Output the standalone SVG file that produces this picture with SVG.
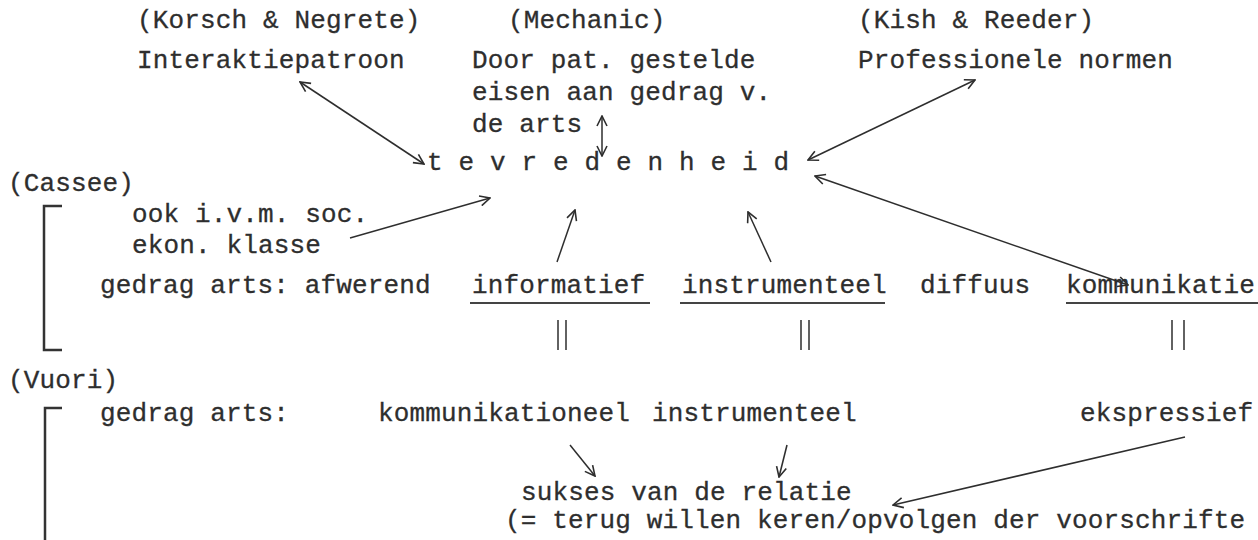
<svg xmlns="http://www.w3.org/2000/svg" width="1258" height="540" viewBox="0 0 1258 540">
<defs>
<style>
text{font-family:"Liberation Mono","Courier New",monospace;font-size:26px;letter-spacing:0.15px;fill:#2e2e2e;stroke:#2e2e2e;stroke-width:0.3}
.ln{stroke:#2e2e2e;stroke-width:1.5;fill:none}
.br{stroke:#333;stroke-width:2.5;fill:none}
.ul{stroke:#444;stroke-width:1.8}
</style>
<marker id="ah" viewBox="0 0 12 12" refX="11" refY="6" markerWidth="12" markerHeight="12" markerUnits="userSpaceOnUse" orient="auto-start-reverse">
<path d="M1,1 L11,6 L1,11" fill="none" stroke="#2e2e2e" stroke-width="1.6"/>
</marker>
</defs>
<rect width="1258" height="540" fill="#fff"/>
<g id="korsch"><text x="137" y="28">(Korsch &amp; Negrete)</text><text x="137" y="68">Interaktiepatroon</text></g>
<g id="mechanic"><text x="508" y="28">(Mechanic)</text><text x="472" y="68">Door pat. gestelde</text><text x="472" y="100">eisen aan gedrag v.</text><text x="472" y="132">de arts</text></g>
<g id="kish"><text x="858" y="28">(Kish &amp; Reeder)</text><text x="858" y="68">Professionele normen</text></g>
<g id="tevredenheid"><text x="427" y="170">t e v r e d e n h e i d</text></g>
<g id="cassee"><text x="8" y="191">(Cassee)</text>
<path class="br" d="M62,206 H44 V350 H62"/>
<text x="132" y="222">ook i.v.m. soc.</text><text x="132" y="253">ekon. klasse</text>
<text x="100" y="293">gedrag arts: afwerend</text>
</g>
<g id="informatief"><text x="472" y="293">informatief</text><line class="ul" x1="470" y1="303" x2="650" y2="303"/></g>
<g id="instrumenteel1"><text x="682" y="293">instrumenteel</text><line class="ul" x1="680" y1="303" x2="885" y2="303"/></g>
<g id="diffuus"><text x="920" y="293">diffuus</text></g>
<g id="kommunikatie"><text x="1066" y="293">kommunikatie</text><line class="ul" x1="1066" y1="303" x2="1258" y2="303"/></g>
<g id="vuori"><text x="8" y="388">(Vuori)</text>
<path class="br" d="M62,408 H45 V540"/>
<text x="100" y="421">gedrag arts:</text></g>
<g id="kommunikationeel"><text x="378" y="421">kommunikationeel</text></g>
<g id="instrumenteel2"><text x="652" y="421">instrumenteel</text></g>
<g id="ekspressief"><text x="1080" y="421">ekspressief</text></g>
<g id="sukses"><text x="521" y="500">sukses van de relatie</text><text x="505" y="528">(= terug willen keren/opvolgen der voorschrifte</text></g>
<g id="connectors">
<line class="ln" x1="424" y1="164" x2="300" y2="82" marker-start="url(#ah)" marker-end="url(#ah)"/>
<line class="ln" x1="602" y1="116" x2="602" y2="156" marker-start="url(#ah)" marker-end="url(#ah)"/>
<line class="ln" x1="808" y1="160" x2="975" y2="80" marker-start="url(#ah)" marker-end="url(#ah)"/>
<line class="ln" x1="815" y1="176" x2="1128" y2="285" marker-start="url(#ah)" marker-end="url(#ah)"/>
<line class="ln" x1="350" y1="238" x2="490" y2="198" marker-end="url(#ah)"/>
<line class="ln" x1="557" y1="262" x2="575" y2="210" marker-end="url(#ah)"/>
<line class="ln" x1="771" y1="262" x2="748" y2="212" marker-end="url(#ah)"/>
<line class="ln" x1="558" y1="320" x2="558" y2="350"/><line class="ln" x1="566" y1="320" x2="566" y2="350"/>
<line class="ln" x1="801" y1="320" x2="801" y2="350"/><line class="ln" x1="809" y1="320" x2="809" y2="350"/>
<line class="ln" x1="1172" y1="320" x2="1172" y2="350"/><line class="ln" x1="1184" y1="320" x2="1184" y2="350"/>
<line class="ln" x1="570" y1="445" x2="595" y2="476" marker-end="url(#ah)"/>
<line class="ln" x1="787" y1="445" x2="779" y2="477" marker-end="url(#ah)"/>
<line class="ln" x1="1185" y1="437" x2="893" y2="505" marker-end="url(#ah)"/>
</g>
</svg>
